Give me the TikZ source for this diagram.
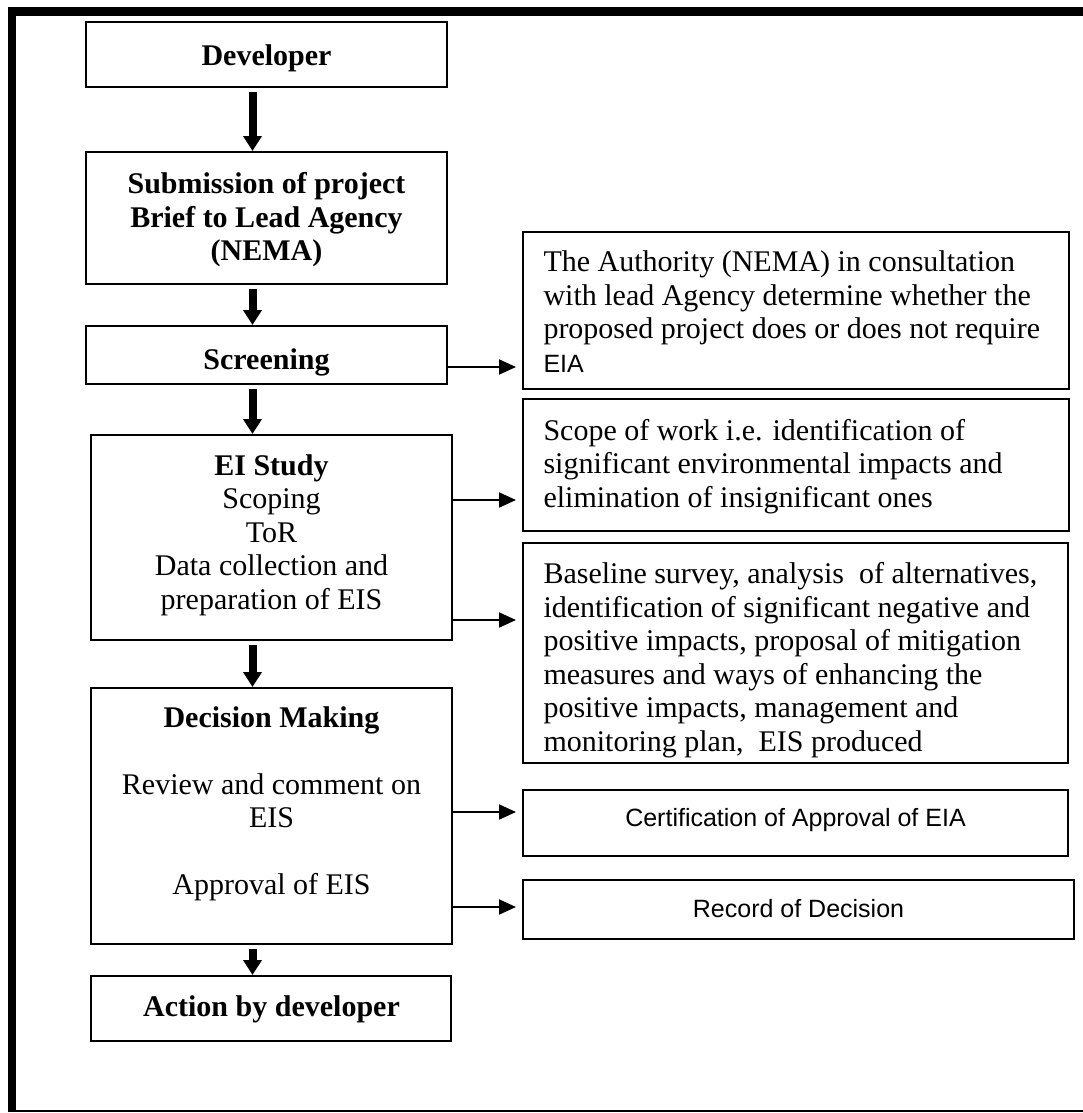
\documentclass[tikz,border=0pt]{standalone}
\usepackage{fontspec}
\setmainfont{Liberation Serif}
\newfontfamily\arialfont{Liberation Sans}
\usetikzlibrary{arrows.meta,fit}

\begin{document}
\begin{tikzpicture}[x=0.4pt,y=-0.4pt,
  box/.style={draw, line width=0.8pt, inner sep=0pt},
  txt/.style={inner sep=0pt, font=\fontsize{12pt}{13.4pt}\selectfont,
    execute at begin node=\strut, execute at end node=\strut},
  head/.style={txt, font=\fontsize{12pt}{13.4pt}\selectfont\bfseries},
  sans/.style={txt, font=\arialfont\fontsize{10pt}{13.4pt}\selectfont},
  flow/.style={line width=3.2pt, -{Triangle[length=6pt,width=7.2pt]}, shorten <=1.6pt},
  side/.style={line width=0.8pt, -{Triangle[length=6.8pt,width=6pt]}, shorten >=2.4pt},
]
\useasboundingbox (0,0) rectangle (1083,1113);
\fill[white] (0,0) rectangle (1083,1113);

% page frame: heavy top and left rules, thin bottom rule
\draw[line width=3.4pt] (12,1112) -- (12,11.5) -- (1083,11.5);
\draw[line width=0.8pt] (16,1111) -- (1083,1111);

% main process column
\node[box, fit={(86,22) (447,87)}]   (dev) {};
\node[box, fit={(86,152) (447,284)}] (sub) {};
\node[box, fit={(86,326) (447,384)}] (scr) {};
\node[box, fit={(91,435) (452,640)}] (eis) {};
\node[box, fit={(91,688) (452,944)}] (dec) {};
\node[box, fit={(91,976) (451,1041)}] (act) {};

% outcome column
\node[box, fit={(523,232) (1069,389)}] (nema) {};
\node[box, fit={(523,399) (1069,531)}] (scope) {};
\node[box, fit={(523,543) (1068,763)}] (base) {};
\node[box, fit={(523,790) (1068,856)}] (cert) {};
\node[box, fit={(523,880) (1074,939)}] (rec) {};

% texts of the main column
\node[head, anchor=north] (devt) at (266.5,42) {Developer};
\node[head, anchor=north, align=center] (subt) at (266.5,172)
  {Submission of project\\Brief to Lead Agency\\(NEMA)};
\node[head, anchor=north] (scrt) at (266.5,346) {Screening};
\node[txt, anchor=north, align=center] (eist) at (271.5,454)
  {\textbf{EI Study}\\Scoping\\ToR\\Data collection and\\preparation of EIS};
\node[txt, anchor=north, align=center] (dect) at (271.5,706)
  {\textbf{Decision Making}\\[13.4pt]Review and comment on\\EIS\\[13.4pt]Approval of EIS};
\node[head, anchor=north] (actt) at (271.5,993) {Action by developer};

% texts of the outcome column
\node[txt, anchor=north west, align=left] (nemat) at (543,250.5)
  {The Authority (NEMA) in consultation\\with lead Agency determine whether the\\proposed project does or does not require\\{\arialfont\fontsize{10pt}{13.4pt}\selectfont EIA}};
\node[txt, anchor=north west, align=left] (scopet) at (543,418.5)
  {Scope of work i.e. identification of\\significant environmental impacts and\\elimination of insignificant ones};
\node[txt, anchor=north west, align=left] (baset) at (543,562)
  {Baseline survey, analysis\ \ of alternatives,\\identification of significant negative and\\positive impacts, proposal of mitigation\\measures and ways of enhancing the\\positive impacts, management and\\monitoring plan,\ \ EIS produced};
\node[sans, anchor=north] (certt) at (795.5,803) {Certification of Approval of EIA};
\node[sans, anchor=north] (rect) at (798.5,894) {Record of Decision};

% downward flow
\coordinate (vx) at (252.5,0);
\draw[flow] (vx |- dev.south) -- (vx |- sub.north);
\draw[flow] (vx |- sub.south) -- (vx |- scr.north);
\draw[flow] (vx |- scr.south) -- (vx |- eis.north);
\draw[flow] (vx |- eis.south) -- (vx |- dec.north);
\draw[flow] (vx |- dec.south) -- (vx |- act.north);

% side outputs
\coordinate (h1) at (0,367);
\coordinate (h2) at (0,500);
\coordinate (h3) at (0,620);
\coordinate (h4) at (0,812);
\coordinate (h5) at (0,907);
\draw[side] (scr.east |- h1) -- (nema.west |- h1);
\draw[side] (eis.east |- h2) -- (scope.west |- h2);
\draw[side] (eis.east |- h3) -- (base.west |- h3);
\draw[side] (dec.east |- h4) -- (cert.west |- h4);
\draw[side] (dec.east |- h5) -- (rec.west |- h5);
\end{tikzpicture}
\end{document}
